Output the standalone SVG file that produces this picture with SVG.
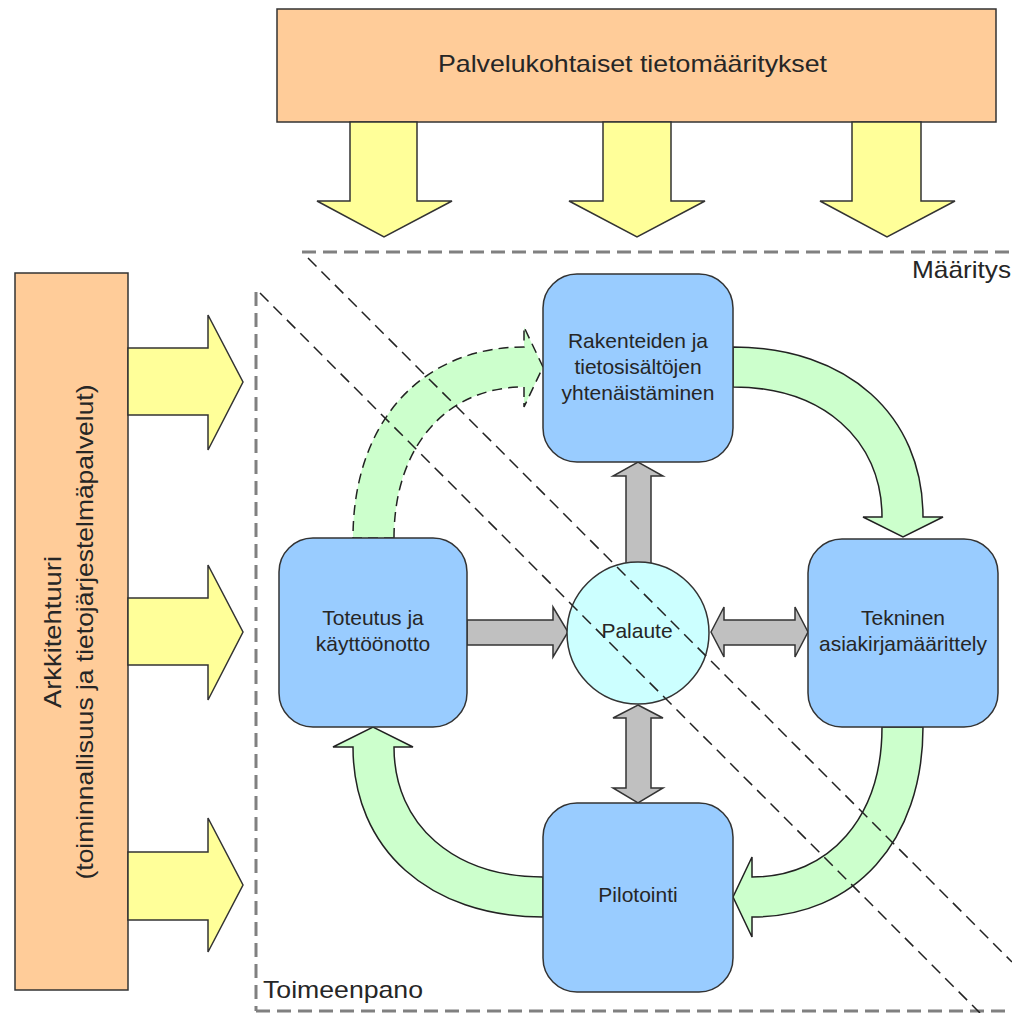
<svg xmlns="http://www.w3.org/2000/svg" width="1012" height="1013" viewBox="0 0 1012 1013">
<style>
text{font-family:"Liberation Sans",Arial,sans-serif;fill:#262626}
.box{fill:#FFCC99;stroke:#333;stroke-width:1.5}
.node{fill:#99CCFF;stroke:#333;stroke-width:1.5}
.circ{fill:#CCFFFF;stroke:#333;stroke-width:1.5}
.yel{fill:#FFFF99;stroke:#333;stroke-width:1.5}
.grn{fill:#CCFFCC;stroke:#222;stroke-width:1.5}
.grn-d{fill:#CCFFCC;stroke:#222;stroke-width:1.5;stroke-dasharray:10 6}
.gry{fill:#C0C0C0;stroke:#333;stroke-width:1.5}
.region{fill:none;stroke:#808080;stroke-width:3;stroke-dasharray:14 7}
.diag{fill:none;stroke:#222;stroke-width:1.5;stroke-dasharray:12 7}
.nt{font-size:21px;text-anchor:middle}
.big{font-size:24px}
</style>
<rect x="0" y="0" width="1012" height="1013" fill="#ffffff"/>

<g id="regions">
  <line class="region" x1="302" y1="252" x2="1012" y2="252"/>
  <line class="region" x1="256" y1="292" x2="256" y2="1011"/>
  <line class="region" x1="256" y1="1011" x2="1012" y2="1011"/>
  <text class="big" x="1011" y="278" text-anchor="end" textLength="99" lengthAdjust="spacingAndGlyphs" fill="#333">Määritys</text>
  <text class="big" x="263" y="998" textLength="160" lengthAdjust="spacingAndGlyphs" fill="#333">Toimeenpano</text>
</g>

<g id="node-palvelu">
  <rect class="box" x="277" y="9" width="719" height="113"/>
  <text class="big" x="632.5" y="72" text-anchor="middle" textLength="389" lengthAdjust="spacingAndGlyphs">Palvelukohtaiset tietomääritykset</text>
</g>

<g id="node-arkkitehtuuri">
  <rect class="box" x="15" y="273" width="113" height="717"/>
  <text class="big" x="61" y="632" transform="rotate(-90 61 632)" text-anchor="middle" textLength="152" lengthAdjust="spacingAndGlyphs">Arkkitehtuuri</text>
  <text class="big" x="93" y="632" transform="rotate(-90 93 632)" text-anchor="middle" textLength="495" lengthAdjust="spacingAndGlyphs">(toiminnallisuus ja tietojärjestelmäpalvelut)</text>
</g>

<g id="connectors">
  <!-- top yellow arrows -->
  <path class="yel" d="M350,122 L350,201 L317,201 L384,237 L452,201 L417,201 L417,122 Z"/>
  <path class="yel" d="M603,122 L603,201 L569,201 L637,237 L705,201 L671,201 L671,122 Z"/>
  <path class="yel" d="M852,122 L852,201 L820,201 L887,237 L955,201 L921,201 L921,122 Z"/>
  <!-- left yellow arrows -->
  <path class="yel" d="M128,348 L208,348 L208,315 L243,382 L208,450 L208,415 L128,415 Z"/>
  <path class="yel" d="M128,598 L208,598 L208,565 L243,632 L208,700 L208,665 L128,665 Z"/>
  <path class="yel" d="M128,852 L208,852 L208,818 L243,885 L208,952 L208,920 L128,920 Z"/>

  <!-- green curved arrows -->
  <path class="grn" d="M733,347 C847,347 923,415 923,517 L943,517 L903,537 L863,517 L882,517 C882,439 822,387 733,387 Z"/>
  <path class="grn" d="M882,727 C882,817 830,877 752,877 L752,857 L733,897 L752,937 L752,917 C855,917 923,841 923,727 Z"/>
  <path class="grn" d="M543,917 C429,917 353,849 353,747 L333,747 L373,727 L413,747 L394,747 C394,825 454,877 543,877 Z"/>
  <path class="grn-d" d="M394,538 C394,447 446,387 524,387 L524,407 L543,367 L524,327 L524,347 C421,347 353,423 353,538 Z"/>

  <!-- gray arrows -->
  <path class="gry" d="M467,620 L553,620 L553,607 L568,632 L553,657 L553,645 L467,645 Z"/>
  <path class="gry" d="M711,632 L724,607 L724,620 L795,620 L795,607 L808,632 L795,657 L795,645 L724,645 L724,657 Z"/>
  <path class="gry" d="M626,585 L626,476 L613,476 L638,462 L663,476 L651,476 L651,585 Z"/>
  <path class="gry" d="M638,705 L663,718 L651,718 L651,788 L663,788 L638,803 L613,788 L626,788 L626,718 L613,718 Z"/>
</g>

<g id="node-rakenteiden">
  <rect class="node" x="543" y="274" width="190" height="188" rx="34" ry="34"/>
  <text class="nt" x="638" y="348">Rakenteiden ja</text>
  <text class="nt" x="638" y="374">tietosisältöjen</text>
  <text class="nt" x="638" y="400">yhtenäistäminen</text>
</g>

<g id="node-tekninen">
  <rect class="node" x="808" y="539" width="190" height="188" rx="34" ry="34"/>
  <text class="nt" x="903" y="625">Tekninen</text>
  <text class="nt" x="903" y="651">asiakirjamäärittely</text>
</g>

<g id="node-toteutus">
  <rect class="node" x="279" y="538" width="188" height="189" rx="34" ry="34"/>
  <text class="nt" x="373" y="625">Toteutus ja</text>
  <text class="nt" x="373" y="651">käyttöönotto</text>
</g>

<g id="node-pilotointi">
  <rect class="node" x="543" y="803" width="190" height="189" rx="34" ry="34"/>
  <text class="nt" x="638" y="902">Pilotointi</text>
</g>

<g id="node-palaute">
  <circle class="circ" cx="638" cy="633" r="71"/>
  <text class="nt" x="637" y="638">Palaute</text>
</g>

<g id="diagonals">
  <line class="diag" x1="308" y1="258" x2="1012" y2="962"/>
  <line class="diag" x1="260" y1="293" x2="980" y2="1013"/>
</g>
</svg>
